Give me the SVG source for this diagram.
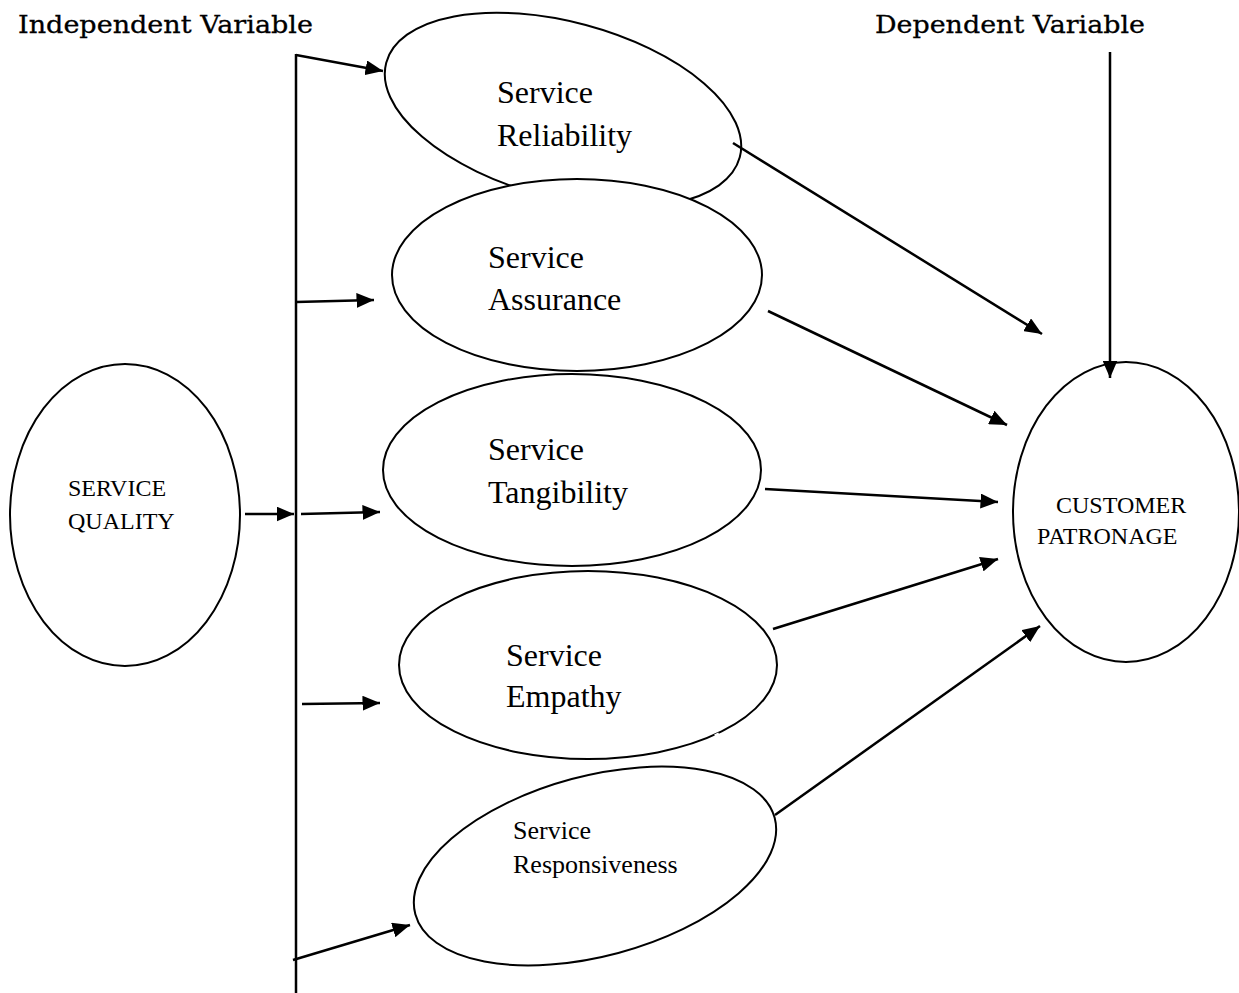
<svg xmlns="http://www.w3.org/2000/svg" width="1239" height="993" viewBox="0 0 1239 993">
<style>
.bg{fill:#ffffff}
.node ellipse{fill:none;stroke:#000;stroke-width:2}
.lbl{font-family:"Liberation Serif","Times New Roman",serif;fill:#000}
.big{font-size:32px}
.mid{font-size:26px}
.cap{font-size:24px}
.title{font-family:"DejaVu Serif","Liberation Serif",serif;font-size:25px;fill:#000;stroke:#000;stroke-width:0.3}
.conn line{stroke:#000;stroke-width:2.5;fill:none}
.arr{marker-end:url(#ah)}
.gap{stroke:#fff;stroke-width:3.5}
</style>
<defs>
<marker id="ah" viewBox="0 0 10 10" refX="10" refY="5" markerWidth="7" markerHeight="6" preserveAspectRatio="none" markerUnits="strokeWidth" orient="auto">
<path d="M0,0 L10,5 L0,10 z" fill="#000"/>
</marker>
</defs>
<rect class="bg" x="0" y="0" width="1239" height="993"/>

<g id="title-independent">
<text class="title" x="18" y="33" textLength="295" lengthAdjust="spacingAndGlyphs">Independent Variable</text>
</g>
<g id="title-dependent">
<text class="title" x="875" y="33" textLength="270" lengthAdjust="spacingAndGlyphs">Dependent Variable</text>
</g>

<g id="service-quality" class="node">
<ellipse cx="125" cy="515" rx="115" ry="151"/>
<text class="lbl cap" x="68" y="496">SERVICE</text>
<text class="lbl cap" x="68" y="529">QUALITY</text>
</g>

<g id="service-reliability" class="node">
<ellipse cx="563" cy="110" rx="183" ry="88" transform="rotate(15 563 110)"/>
<text class="lbl big" x="497" y="103">Service</text>
<text class="lbl big" x="497" y="146">Reliability</text>
</g>

<g id="service-assurance" class="node">
<ellipse cx="577" cy="275" rx="185" ry="96" style="fill:#fff"/>
<text class="lbl big" x="488" y="268">Service</text>
<text class="lbl big" x="488" y="310">Assurance</text>
</g>

<g id="service-tangibility" class="node">
<ellipse cx="572" cy="470" rx="189" ry="96"/>
<text class="lbl big" x="488" y="460">Service</text>
<text class="lbl big" x="488" y="503">Tangibility</text>
</g>

<g id="service-empathy" class="node">
<ellipse cx="588" cy="665" rx="189" ry="94"/>
<line class="gap" x1="715" y1="736" x2="719" y2="734"/>
<text class="lbl big" x="506" y="666">Service</text>
<text class="lbl big" x="506" y="707">Empathy</text>
</g>

<g id="service-responsiveness" class="node">
<ellipse cx="595" cy="866" rx="186" ry="90" transform="rotate(-15 595 866)"/>
<line class="gap" x1="713" y1="927" x2="718" y2="923"/>
<text class="lbl mid" x="513" y="839">Service</text>
<text class="lbl mid" x="513" y="873">Responsiveness</text>
</g>

<g id="customer-patronage" class="node">
<ellipse cx="1126" cy="512" rx="113" ry="150"/>
<text class="lbl cap" x="1056" y="513">CUSTOMER</text>
<text class="lbl cap" x="1037" y="544">PATRONAGE</text>
</g>

<g id="connectors" class="conn">
<line x1="296" y1="54" x2="296" y2="993"/>
<line class="arr" x1="296" y1="55" x2="383" y2="71"/>
<line class="arr" x1="296" y1="302" x2="374" y2="300"/>
<line class="arr" x1="245" y1="514" x2="294" y2="514"/>
<line class="arr" x1="301" y1="514" x2="380" y2="512"/>
<line class="arr" x1="302" y1="704" x2="380" y2="703"/>
<line class="arr" x1="293" y1="960" x2="410" y2="925"/>
<line class="arr" x1="733" y1="143" x2="1042" y2="334"/>
<line class="arr" x1="768" y1="311" x2="1007" y2="425"/>
<line class="arr" x1="765" y1="489" x2="998" y2="502"/>
<line class="arr" x1="773" y1="629" x2="998" y2="559"/>
<line class="arr" x1="775" y1="815" x2="1040" y2="626"/>
<line class="arr" x1="1110" y1="52" x2="1110" y2="378"/>
</g>
</svg>
